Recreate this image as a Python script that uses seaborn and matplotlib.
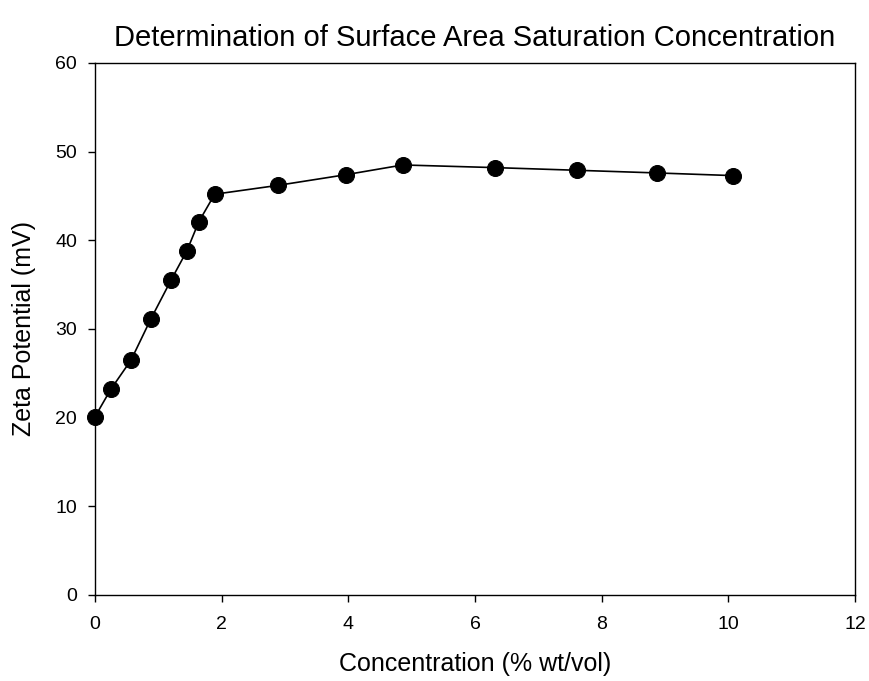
import matplotlib
matplotlib.use("Agg")
import matplotlib.pyplot as plt
import seaborn as sns
import pandas as pd

# Values
concentration = [0.0, 0.25, 0.57, 0.88, 1.20, 1.45, 1.64, 1.89, 2.89, 3.96, 4.86, 6.32, 7.61, 8.87, 10.07]
zeta_potential = [20.1, 23.2, 26.5, 31.1, 35.5, 38.8, 42.1, 45.2, 46.2, 47.4, 48.5, 48.2, 47.9, 47.6, 47.3]

x_ticks = [0, 2, 4, 6, 8, 10, 12]
y_ticks = [0, 10, 20, 30, 40, 50, 60]

df = pd.DataFrame({"Concentration": concentration, "Zeta": zeta_potential})

sns.set_style("ticks")
plt.rcParams["font.family"] = ["Liberation Sans", "DejaVu Sans"]
plt.rcParams["text.color"] = "black"
plt.rcParams["axes.labelcolor"] = "black"

fig = plt.figure(figsize=(8.69, 6.81), dpi=100)
ax = fig.add_axes([0.1093, 0.1263, 0.8746, 0.7812])

sns.lineplot(data=df, x="Concentration", y="Zeta", ax=ax, color="black",
             linewidth=1.2, marker="o", markersize=11.5, markeredgecolor="black",
             markerfacecolor="black", clip_on=False, zorder=3)

ax.set_xlim(0, 12)
ax.set_ylim(0, 60)
ax.set_xticks(x_ticks)
ax.set_yticks(y_ticks)
ax.tick_params(direction="out", length=5, width=1, labelsize=14, colors="black")
ax.tick_params(axis="x", top=False, pad=10)
ax.tick_params(axis="y", right=False, pad=8)
for spine in ax.spines.values():
    spine.set_visible(True)
    spine.set_linewidth(1)
    spine.set_color("black")

ax.set_xlabel("Concentration (% wt/vol)", fontsize=18, labelpad=14)
ax.set_ylabel("Zeta Potential (mV)", fontsize=18, labelpad=14)
ax.set_title("Determination of Surface Area Saturation Concentration", fontsize=21, pad=12)

fig.savefig("out.png", dpi=100)
